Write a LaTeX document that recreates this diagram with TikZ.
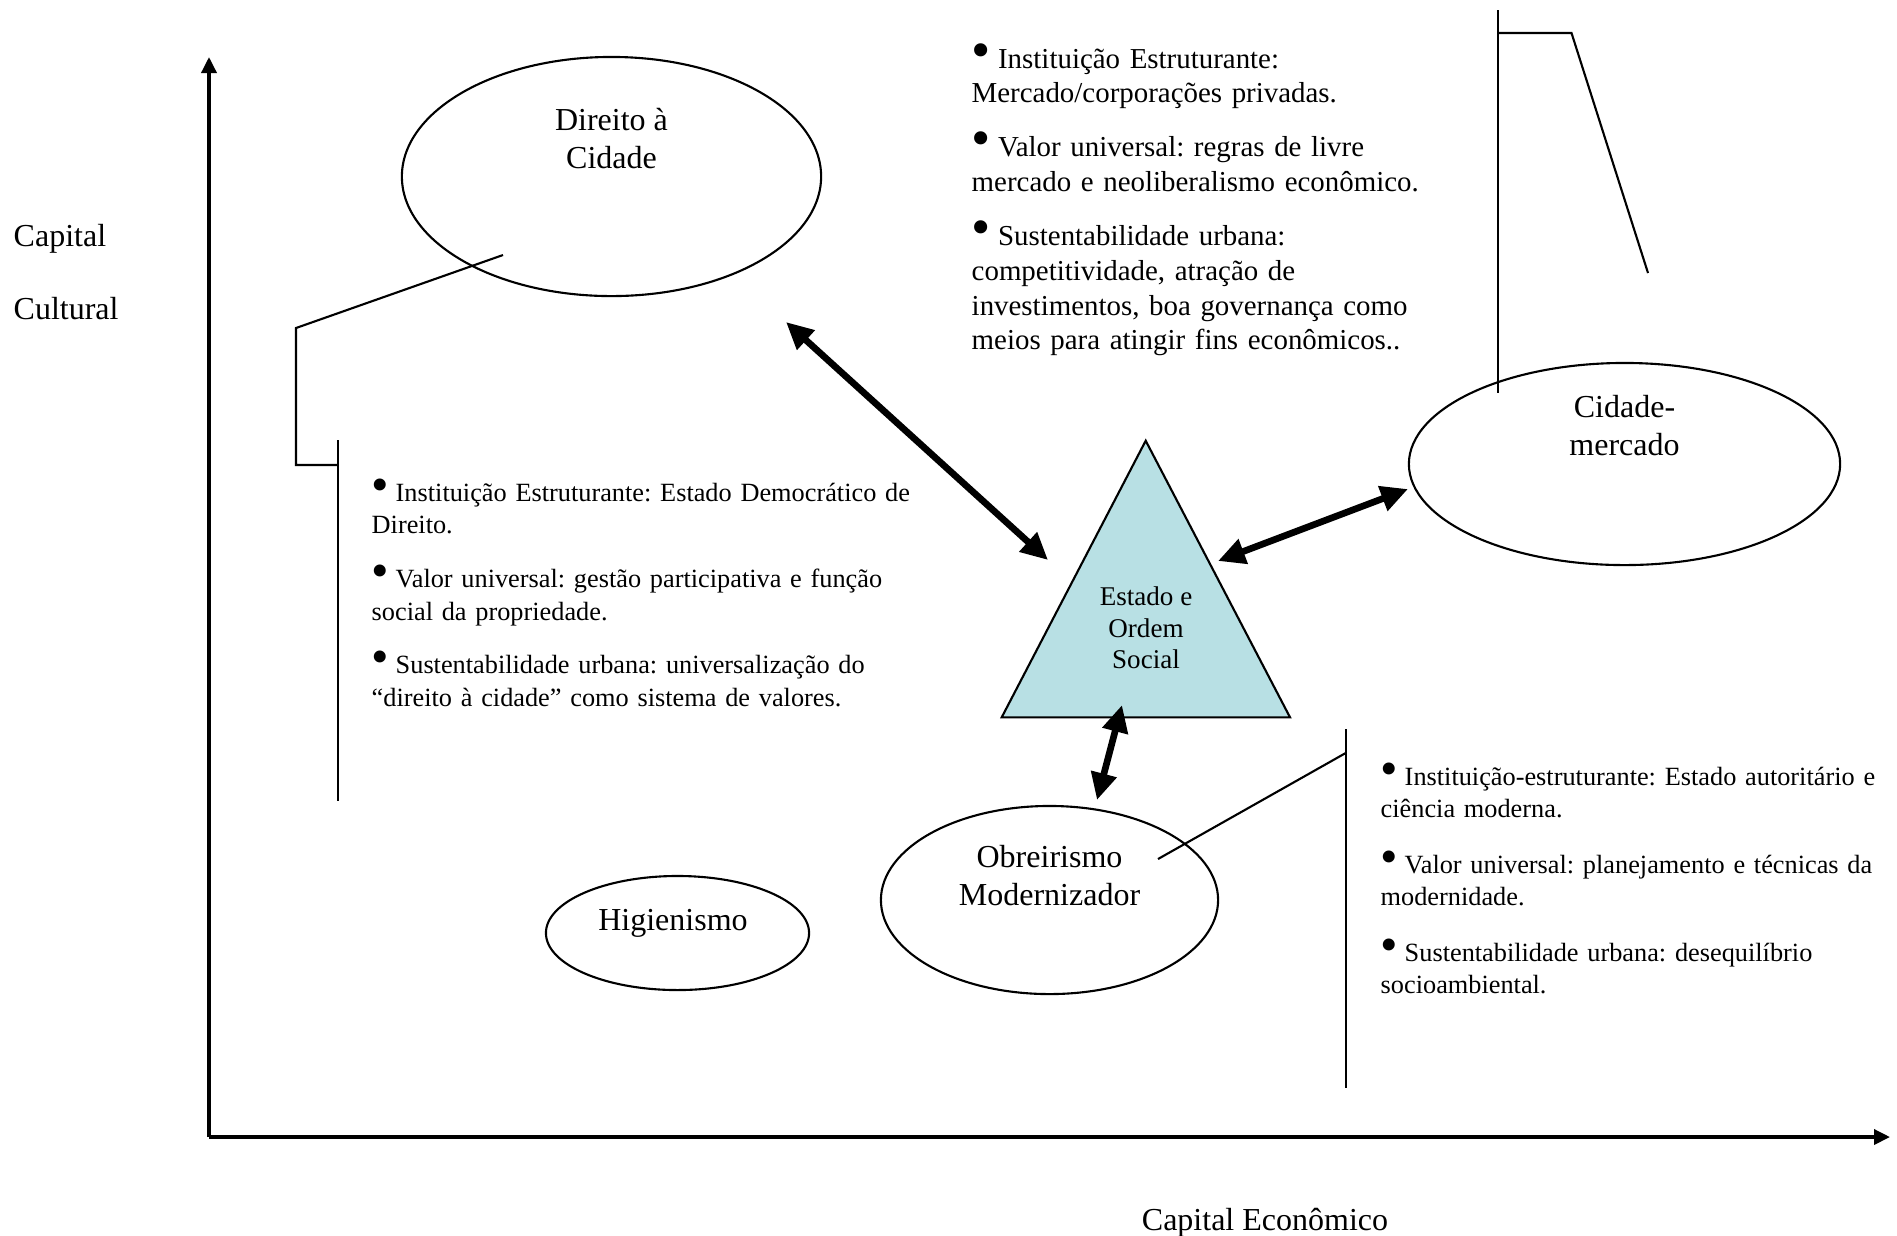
\documentclass[tikz,border=0pt]{standalone}
\usepackage{fontspec}
\setmainfont{Liberation Serif}
\usepackage{graphicx}
\usepackage{tikz}
\usetikzlibrary{shapes,arrows.meta,positioning}
\definecolor{paleteal}{RGB}{184,224,228}
\frenchspacing
\newcommand{\bul}{\makebox[0.58em][l]{\scalebox{1.9}{\textbullet}}}
\tikzstyle{zone} = [ellipse, draw, line width=0.6pt, inner sep=0pt]
\tikzstyle{title} = [align=center, inner sep=0pt, font=\fontsize{9.1pt}{10.8pt}\selectfont]
\tikzstyle{notes} = [anchor=base west, align=left, inner sep=0pt]
\tikzstyle{callout} = [draw, line width=0.6pt]
\tikzstyle{tri} = [draw, fill=paleteal, line width=0.6pt, line join=miter]
\tikzstyle{link} = [draw, line width=1.9pt,
    {Triangle[length=0.27cm,width=0.25cm]}-{Triangle[length=0.27cm,width=0.25cm]}]
\tikzstyle{axis} = [draw, line width=1pt, -{Triangle[length=0.16cm,width=0.15cm]}]

\begin{document}
\begin{tikzpicture}[x=0.01cm, y=-0.01cm]
    \useasboundingbox (0,0) rectangle (1897,1235);
    % Axes
    \coordinate (origin) at (209,1137);
    \coordinate (ytop) at (209,57);
    \coordinate (xend) at (1890,1137);
    \path [axis] (origin) -- (ytop);
    \path [axis] (origin) -- (xend);
    \node [anchor=base west, align=left, text width=2cm, inner sep=0pt,
        font=\fontsize{9.1pt}{10.8pt}\selectfont] (ylabel) at (13,246) {Capital\\[10.2pt]Cultural};
    \node [anchor=base, inner sep=0pt, font=\fontsize{9.1pt}{10.8pt}\selectfont] (xlabel) at (1265,1230.5) {Capital Econômico};
    % Place nodes
    \node [zone, minimum width=4.19cm, minimum height=2.39cm] (direito) at (611.5,176.5) {};
    \node [zone, minimum width=4.31cm, minimum height=2.02cm] (mercado) at (1624.5,464) {};
    \node [zone, minimum width=3.37cm, minimum height=1.88cm] (obreirismo) at (1049.5,900) {};
    \node [zone, minimum width=2.63cm, minimum height=1.14cm] (higienismo) at (677.5,933) {};
    \node [title] (direitotxt) at ([yshift=0.375cm]direito.center) {Direito à\\Cidade};
    \node [title] (mercadotxt) at ([yshift=0.38cm]mercado.center) {Cidade-\\mercado};
    \node [title] (obreirismotxt) at ([yshift=0.245cm]obreirismo.center) {Obreirismo\\Modernizador};
    \node [title] (higienismotxt) at ([xshift=-0.045cm,yshift=0.1cm]higienismo.center) {Higienismo};
    % Triangle
    \coordinate (apex) at (1145.7,440.7);
    \coordinate (baseL) at (1001.7,717.3);
    \coordinate (baseR) at (1290,717.3);
    \path [tri] (apex) -- (baseL) -- (baseR) -- cycle;
    \node [align=center, inner sep=0pt, font=\fontsize{7.7pt}{9pt}\selectfont] (estado) at (1146,628) {Estado e\\Ordem\\Social};
    % Notes
    \node [notes, text width=5cm, font=\fontsize{8.22pt}{9.85pt}\selectfont] (mercadonotes) at (971,68)
        {\bul{} Instituição Estruturante:\\Mercado/corporações privadas.\\[5.6pt]
         \bul{} Valor universal: regras de livre\\mercado e neoliberalismo econômico.\\[5.6pt]
         \bul{} Sustentabilidade urbana:\\competitividade, atração de\\investimentos, boa governança como\\meios para atingir fins econômicos..};
    \node [notes, text width=5.8cm, font=\fontsize{7.48pt}{9.2pt}\selectfont] (direitonotes) at (371,501.5)
        {\bul{} Instituição Estruturante: Estado Democrático de\\Direito.\\[6.1pt]
         \bul{} Valor universal: gestão participativa e função\\social da propriedade.\\[6.1pt]
         \bul{} Sustentabilidade urbana: universalização do\\“direito à cidade” como sistema de valores.};
    \node [notes, text width=5.1cm, font=\fontsize{7.48pt}{9.2pt}\selectfont] (obreirismonotes) at (1380,785.5)
        {\bul{} Instituição-estruturante: Estado autoritário e\\ciência moderna.\\[6.6pt]
         \bul{} Valor universal: planejamento e técnicas da\\modernidade.\\[6.6pt]
         \bul{} Sustentabilidade urbana: desequilíbrio\\socioambiental.};
    % Callouts
    \coordinate (c1a) at (503,255);
    \coordinate (c1b) at (296,328);
    \coordinate (c1c) at (296,465);
    \coordinate (c1d) at (338,465);
    \coordinate (c1top) at (338,440);
    \coordinate (c1bot) at (338,801);
    \path [callout] (c1a) -- (c1b) -- (c1c) -- (c1d);
    \path [callout] (c1top) -- (c1bot);
    \coordinate (c2top) at (1498,10);
    \coordinate (c2bot) at (1498,393);
    \coordinate (c2a) at (1498,33);
    \coordinate (c2b) at (1571.5,33);
    \coordinate (c2c) at (1648,273);
    \path [callout] (c2top) -- (c2bot);
    \path [callout] (c2a) -- (c2b) -- (c2c);
    \coordinate (c3top) at (1345.7,729);
    \coordinate (c3bot) at (1345.7,1088);
    \coordinate (c3a) at (1158,859);
    \coordinate (c3b) at (1345.7,753);
    \path [callout] (c3top) -- (c3bot);
    \path [callout] (c3a) -- (c3b);
    % Draw edges
    \coordinate (direitoend) at (786,322);
    \coordinate (estadoL) at (1048,560);
    \coordinate (estadoR) at (1218,561);
    \coordinate (mercadoend) at (1408,489);
    \coordinate (estadoB) at (1122,705);
    \coordinate (obreirismoend) at (1097,800);
    \path [link] (direitoend) -- (estadoL);
    \path [link] (estadoR) -- (mercadoend);
    \path [link] (estadoB) -- (obreirismoend);
\end{tikzpicture}
\end{document}
